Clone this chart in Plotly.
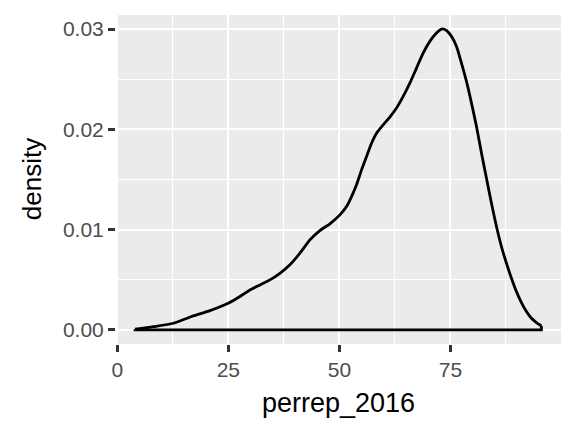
import plotly.graph_objects as go

# Density estimate of perrep_2016
perrep = [3.98, 8.11, 12.61, 17.11, 20.86, 24.98, 27.61, 29.86, 32.11, 34.36,
          36.61, 38.86, 41.11, 43.36, 45.61, 47.86, 50.11, 51.61, 52.74, 53.86,
          54.99, 56.11, 57.24, 58.36, 59.86, 61.36, 62.86, 64.36, 65.86, 67.36,
          68.86, 70.36, 71.86, 72.99, 74.11, 75.24, 76.37, 77.49, 78.62, 79.74,
          80.87, 81.99, 83.12, 84.24, 85.37, 86.49, 87.62, 88.74, 89.87, 90.99,
          92.12, 93.24, 94.37, 95.49]
density = [0.00007, 0.00033, 0.00067, 0.0014, 0.00193, 0.00266, 0.00333, 0.00399,
           0.00449, 0.00499, 0.00565, 0.00649, 0.00765, 0.00898, 0.00991, 0.01058,
           0.01147, 0.0123, 0.0133, 0.01447, 0.01596, 0.01729, 0.01862, 0.01962,
           0.02045, 0.02122, 0.02212, 0.02328, 0.02461, 0.02611, 0.0276, 0.02877,
           0.0296, 0.0300, 0.02986, 0.02927, 0.02827, 0.02661, 0.02478, 0.02262,
           0.02029, 0.01763, 0.01513, 0.01264, 0.01031, 0.00831, 0.00665, 0.00516,
           0.00382, 0.00273, 0.00183, 0.00116, 0.00073, 0.0004]

x_ticks = [0, 25, 50, 75]
x_labels = ["0", "25", "50", "75"]
y_ticks = [0.00, 0.01, 0.02, 0.03]
y_labels = ["0.00", "0.01", "0.02", "0.03"]

FONT = "Liberation Sans, Arial, Helvetica, sans-serif"

fig = go.Figure()
fig.add_trace(go.Scatter(
    x=perrep, y=density, mode="lines",
    line=dict(color="black", width=2.8, shape="spline", smoothing=0.6),
    hoverinfo="skip", showlegend=False,
))
# closing baseline of the density polygon
fig.add_trace(go.Scatter(
    x=[perrep[-1], perrep[-1], perrep[0], perrep[0]],
    y=[density[-1], 0, 0, density[0]], mode="lines",
    line=dict(color="black", width=2.8),
    hoverinfo="skip", showlegend=False,
))

# page body has an 8px offset, so the figure is 8px smaller on each axis
fig.update_layout(
    width=568, height=424,
    margin=dict(l=108, r=15, t=7, b=88),
    paper_bgcolor="white", plot_bgcolor="#EBEBEB",
    font=dict(family=FONT, color="#4D4D4D", size=21),
    xaxis=dict(
        range=[-0.3, 99.9], tickmode="array", tickvals=x_ticks, ticktext=x_labels,
        showgrid=True, gridcolor="white", gridwidth=2, zeroline=False, showline=False,
        ticks="outside", ticklen=7, tickwidth=2.5, tickcolor="#333333",
        tickfont=dict(size=21, color="#4D4D4D", family=FONT),
        minor=dict(tickmode="array", tickvals=[12.5, 37.5, 62.5, 87.5],
                   showgrid=True, gridcolor="white", gridwidth=1, ticklen=0),
        fixedrange=True,
    ),
    yaxis=dict(
        range=[-0.0014, 0.0314], tickmode="array", tickvals=y_ticks, ticktext=y_labels,
        showgrid=True, gridcolor="white", gridwidth=2, zeroline=False, showline=False,
        ticks="outside", ticklen=7, tickwidth=2.5, tickcolor="#333333",
        tickfont=dict(size=21, color="#4D4D4D", family=FONT),
        minor=dict(tickmode="array", tickvals=[0.005, 0.015, 0.025],
                   showgrid=True, gridcolor="white", gridwidth=1, ticklen=0),
        fixedrange=True,
    ),
    annotations=[
        dict(text="perrep_2016", xref="paper", yref="paper", x=0.5, y=-0.179,
             xanchor="center", yanchor="middle", showarrow=False,
             font=dict(size=27, color="black", family=FONT)),
        dict(text="density", xref="paper", yref="paper", x=-0.1894, y=0.5,
             xanchor="center", yanchor="middle", textangle=-90, showarrow=False,
             font=dict(size=26, color="black", family=FONT)),
    ],
)

fig.write_html("out.html")
